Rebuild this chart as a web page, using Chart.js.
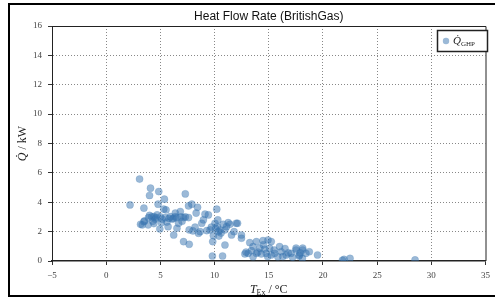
<!DOCTYPE html>
<html>
<head>
<meta charset="utf-8">
<script src="https://cdn.jsdelivr.net/npm/chart.js@4"></script>
<style>
  html, body { margin: 0; padding: 0; background: #fff; }
  #wrap { position: relative; width: 495px; height: 300px; }
</style>
</head>
<body>
<div id="wrap"><canvas id="myChart"></canvas></div>
<script>
// outdoor temperature (deg C) and heat flow rate (kW)
const tempEx = [
  2.2, 3.08, 4.09, 4.0, 4.85, 3.48, 4.79, 5.31, 5.37, 4.4, 4.7, 5.16, 4.54, 3.54, 3.33, 3.87, 3.17, 3.48,
  4.95, 5.71, 5.92, 5.52, 4.2, 4.0, 4.6, 5.0, 5.45, 5.8, 4.3, 3.9, 4.4, 5.1, 5.6, 6.1,
  6.38, 6.53, 7.3, 7.9, 8.43, 7.6, 6.38, 6.84, 7.14, 7.6, 6.68, 6.2, 6.5, 6.9, 7.3, 7.0, 8.3, 9.12,
  9.43, 8.97, 8.82, 7.66, 8.67, 8.52, 9.28, 9.59, 7.14, 7.66, 6.23, 8.0, 8.2,
  10.04, 10.2, 10.3, 10.26, 10.35, 11.1, 11.26, 10.96, 11.57, 12.0, 12.48, 9.89, 9.83, 10.96, 9.8,
  10.74, 10.5, 10.6, 11.42, 12.12, 12.48, 10.1, 10.8, 11.8, 10.4, 9.7,
  13.25, 13.86, 14.47, 14.93, 15.23, 13.55, 14.17, 14.62, 15.08, 13.1, 13.86, 14.31, 14.77, 15.23,
  12.8, 13.55, 15.54, 16.0, 16.15, 16.6, 17.06, 17.52, 17.83, 18.13, 18.43, 15.84, 17.52, 18.13,
  18.74, 19.5, 17.8, 18.1, 14.0, 14.9, 16.3, 17.2, 16.8, 13.4, 14.5, 15.5, 12.9, 17.9, 16.5,
  21.95, 22.5, 28.5, 21.8
];
const qGhp = [
  3.82, 5.58, 4.96, 4.46, 4.73, 3.6, 3.87, 3.53, 4.21, 3.02, 3.14, 2.85, 2.85, 2.73, 2.46, 2.46, 2.5, 2.68,
  2.18, 2.34, 3.02, 3.48, 3.0, 3.1, 2.95, 3.0, 2.95, 2.9, 2.7, 2.95, 2.55, 2.6, 2.65, 2.85,
  3.02, 2.23, 4.57, 3.87, 3.66, 3.75, 3.26, 3.37, 2.96, 2.96, 2.57, 2.9, 2.95, 3.0, 3.0, 2.7, 3.26, 3.19,
  3.14, 2.8, 2.57, 2.12, 2.0, 1.89, 2.07, 2.12, 1.32, 1.14, 1.77, 2.05, 2.3,
  2.57, 3.53, 2.8, 2.34, 2.0, 2.34, 2.61, 2.12, 1.77, 2.57, 1.77, 1.73, 1.32, 1.09, 0.34,
  0.34, 2.1, 1.9, 2.5, 2.57, 1.55, 2.2, 2.5, 2.0, 1.7, 2.3,
  1.25, 1.32, 1.39, 1.43, 1.32, 0.98, 0.87, 0.8, 0.87, 0.52, 0.52, 0.48, 0.52, 0.41,
  0.48, 0.29, 0.52, 0.98, 0.63, 0.41, 0.52, 0.75, 0.41, 0.75, 0.52, 0.29, 0.87, 0.87,
  0.63, 0.41, 0.34, 0.18, 0.6, 0.3, 0.3, 0.25, 0.55, 0.7, 1.1, 0.75, 0.6, 0.55, 0.85,
  0.11, 0.18, 0.07, 0.05
];
const xTicks = [-5, 0, 5, 10, 15, 20, 25, 30, 35];
const yTicks = [0, 2, 4, 6, 8, 10, 12, 14, 16];

const titleText = "Heat Flow Rate (BritishGas)";
const pointFill = "rgba(55, 115, 175, 0.5)";

const points = tempEx.map((t, i) => ({ x: t, y: qGhp[i] }));

const serif = "'Liberation Serif', 'DejaVu Serif', serif";

// text with a subscript, drawn left to right from x
function subText(ctx, x, y, parts) {
  let cx = x;
  parts.forEach(p => {
    ctx.font = p.font;
    ctx.fillText(p.text, cx, y + (p.dy || 0));
    cx += ctx.measureText(p.text).width;
  });
  return cx - x;
}
function measureParts(ctx, parts) {
  let w = 0;
  parts.forEach(p => { ctx.font = p.font; w += ctx.measureText(p.text).width; });
  return w;
}

const decor = {
  id: "decor",
  afterDraw(chart) {
    const ctx = chart.ctx;
    const a = chart.chartArea;
    ctx.save();

    // top and right spines
    ctx.strokeStyle = "#222";
    ctx.lineWidth = 1;
    ctx.beginPath();
    ctx.moveTo(a.left, a.top + 0.5);
    ctx.lineTo(a.right + 0.5, a.top + 0.5);
    ctx.lineTo(a.right + 0.5, a.bottom);
    ctx.stroke();

    // outer frame
    ctx.strokeStyle = "#000";
    ctx.lineWidth = 2;
    ctx.strokeRect(9, 4, 500, 292);

    // title
    ctx.fillStyle = "#111";
    ctx.font = "12px 'Liberation Sans', Arial, sans-serif";
    ctx.textAlign = "center";
    ctx.textBaseline = "middle";
    ctx.fillText(titleText, (a.left + a.right) / 2, 17);

    // x axis title
    ctx.textAlign = "left";
    ctx.textBaseline = "alphabetic";
    ctx.fillStyle = "#222";
    const xParts = [
      { text: "T", font: "italic 12px " + serif },
      { text: "Ex", font: "8px " + serif, dy: 2 },
      { text: " / °C", font: "12px " + serif }
    ];
    const xw = measureParts(ctx, xParts);
    subText(ctx, (a.left + a.right) / 2 - xw / 2, 293, xParts);

    // y axis title, rotated
    ctx.save();
    ctx.translate(26, (a.top + a.bottom) / 2);
    ctx.rotate(-Math.PI / 2);
    const yParts = [
      { text: "Q\u0307", font: "italic 12px " + serif },
      { text: " / kW", font: "12px " + serif }
    ];
    const yw = measureParts(ctx, yParts);
    subText(ctx, -yw / 2, 0, yParts);
    ctx.restore();

    // legend
    const lx = 437, ly = 30, lw = 50, lh = 21;
    ctx.fillStyle = "#fff";
    ctx.fillRect(lx, ly, lw, lh);
    ctx.strokeStyle = "#222";
    ctx.lineWidth = 1.5;
    ctx.strokeRect(lx + 0.5, ly + 0.5, lw, lh);
    ctx.fillStyle = pointFill;
    ctx.beginPath();
    ctx.arc(lx + 9, ly + 11, 3.2, 0, Math.PI * 2);
    ctx.fill();
    ctx.fillStyle = "#222";
    subText(ctx, lx + 16, ly + 14, [
      { text: "Q\u0307", font: "italic 11px " + serif },
      { text: "GHP", font: "7px " + serif, dy: 2 }
    ]);

    ctx.restore();
  }
};

const data = {
  datasets: [
    {
      label: "Q\u0307 GHP",
      data: points,
      backgroundColor: pointFill,
      borderColor: "rgba(55, 115, 175, 0.35)",
      borderWidth: 0.5,
      pointRadius: 3.6,
    },
  ],
};

const config = {
  type: "scatter",
  data: data,
  options: {
    responsive: false,
    animation: false,
    layout: {
      padding: { left: 0, top: 26, right: 6, bottom: 0 },
    },
    plugins: {
      legend: { display: false },
      title: { display: false },
      tooltip: { enabled: false },
    },
    scales: {
      x: {
        min: -5,
        max: 35,
        afterBuildTicks: (s) => { s.ticks = xTicks.map(v => ({ value: v })); },
        afterFit: (s) => { s.height = 39; },
        ticks: {
          color: "#444",
          font: { family: serif, size: 9 },
          padding: 5,
          maxRotation: 0,
          callback: (v) => String(v).replace("-", "\u2212"),
        },
        grid: {
          color: (c) => (c.tick && (c.tick.value === -5 || c.tick.value === 35)) ? "rgba(0,0,0,0)" : "#888",
          lineWidth: 1,
          tickLength: 4,
          tickColor: "#333",
        },
        border: { color: "#222", width: 1.5, dash: [1, 2] },
      },
      y: {
        min: 0,
        max: 16,
        afterBuildTicks: (s) => { s.ticks = yTicks.map(v => ({ value: v })); },
        afterFit: (s) => { s.width = 52; },
        ticks: {
          color: "#444",
          font: { family: serif, size: 9 },
          padding: 6,
        },
        grid: {
          color: (c) => (c.tick && (c.tick.value === 0 || c.tick.value === 16)) ? "rgba(0,0,0,0)" : "#888",
          lineWidth: 1,
          tickLength: 4,
          tickColor: "#333",
        },
        border: { color: "#222", width: 1, dash: [1, 2] },
      },
    },
  },
  plugins: [decor],
};

const canvas = document.getElementById("myChart");
canvas.width = 495;
canvas.height = 300;
new Chart(canvas, config);
</script>
</body>
</html>
